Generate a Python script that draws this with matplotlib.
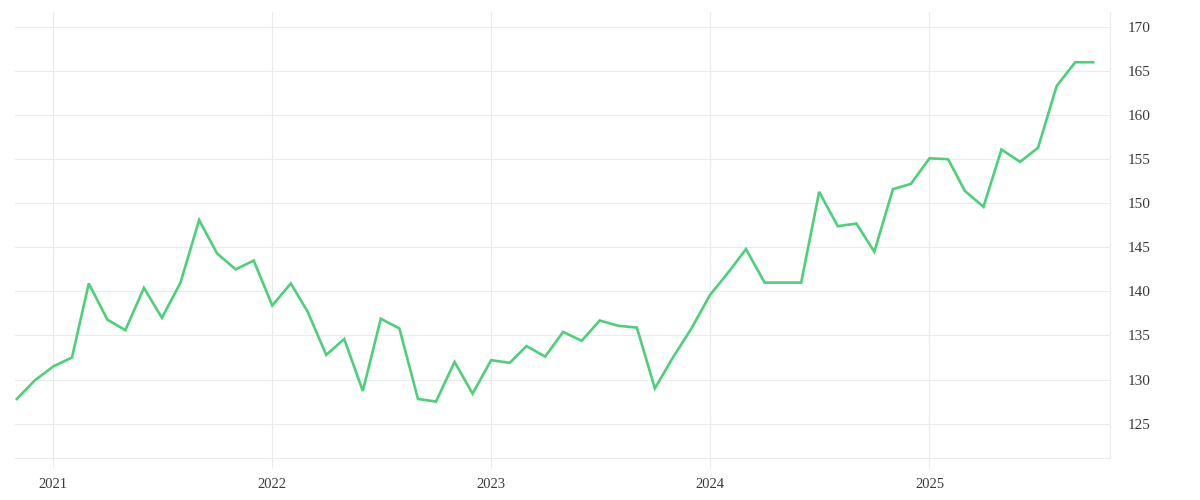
import matplotlib
matplotlib.use("Agg")
import matplotlib.pyplot as plt
import matplotlib.dates as mdates
import pandas as pd
import numpy as np

dates = pd.date_range("2020-11-01", "2025-10-01", freq="MS")
values = [
    127.8, 129.9, 131.5, 132.5, 140.9, 136.8, 135.6, 140.4, 137.0, 141.0, 148.1, 144.3,
    142.5, 143.5, 138.4, 140.9, 137.7, 132.8, 134.6, 128.7, 136.9, 135.8, 127.8, 127.5,
    132.0, 128.4, 132.2, 131.9, 133.8, 132.6, 135.4, 134.4, 136.7, 136.1, 135.9, 129.0,
    132.6, 135.8, 139.6, 142.2, 144.8, 141.0, 141.0, 141.0, 151.3, 147.4, 147.7, 144.5,
    151.6, 152.2, 155.1, 155.0, 151.4, 149.6, 156.1, 154.7, 156.3, 163.3, 166.0, 166.0,
]
y_ticks = [125, 130, 135, 140, 145, 150, 155, 160, 165, 170]
x_tick_years = [2021, 2022, 2023, 2024, 2025]

plt.rcParams['font.family'] = ['Liberation Serif', 'DejaVu Serif']

fig = plt.figure(figsize=(12, 5), dpi=100)
ax = fig.add_axes([0.0125, 0.084, 0.9125, 0.892])

grid_c = "#ebebeb"
ax.plot(dates, values, color="#4cd07a", linewidth=1.9, solid_joinstyle="miter", zorder=3)

ax.set_ylim(121.1, 171.7)
ax.set_xlim(pd.Timestamp("2020-10-29"), pd.Timestamp("2025-10-29"))

ax.set_yticks(y_ticks)
ax.set_xticks([pd.Timestamp(f"{y}-01-01") for y in x_tick_years])
ax.set_xticklabels([str(y) for y in x_tick_years])

ax.yaxis.tick_right()
ax.grid(True, color=grid_c, linewidth=0.8, zorder=0)
for s in ["top", "left"]:
    ax.spines[s].set_visible(False)
for s in ["right", "bottom"]:
    ax.spines[s].set_color(grid_c)
    ax.spines[s].set_linewidth(0.8)

ax.tick_params(axis="x", length=7, color=grid_c, width=0.8, pad=7.5, labelsize=10.5, labelcolor="#3a3a3a")
ax.tick_params(axis="y", length=0, pad=13, labelsize=11, labelcolor="#3a3a3a")

fig.savefig("out.png", dpi=100, facecolor="white")
